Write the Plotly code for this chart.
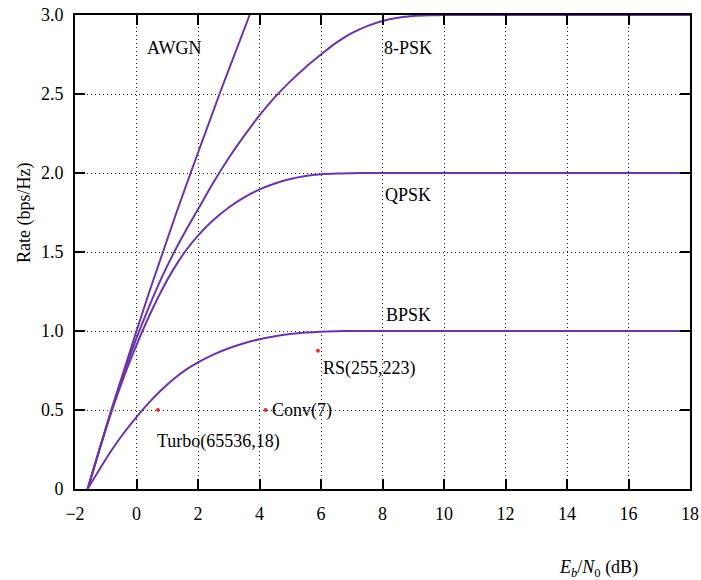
import plotly.graph_objects as go

# ---- data ----
awgn_x = [-1.59, -1.21, -0.82, -0.41, 0.0, 0.42, 0.86, 1.30, 1.76, 2.23, 2.70, 3.19, 3.68]
awgn_y = [0.0, 0.25, 0.5, 0.75, 1.0, 1.25, 1.5, 1.75, 2.0, 2.25, 2.5, 2.75, 3.0]

bpsk_x = [-1.59, -1.2, -0.8, -0.4, 0.0, 0.4, 0.8, 1.2, 1.6, 2.0, 2.5, 3.0, 3.5, 4.0, 4.5,
          5.0, 5.5, 6.0, 6.5, 7.0, 7.5, 8.0, 9.0, 10.0, 11.0, 12.0, 13.0, 14.0, 15.0,
          16.0, 17.0, 18.0]
bpsk_y = [0.0, 0.125, 0.2485, 0.3575, 0.455, 0.545, 0.625, 0.695, 0.754, 0.802, 0.851,
          0.891, 0.923, 0.948, 0.967, 0.981, 0.9905, 0.996, 0.9986, 0.9996, 1.0, 1.0, 1.0,
          1.0, 1.0, 1.0, 1.0, 1.0, 1.0, 1.0, 1.0, 1.0]

qpsk_x = [-1.59, -1.2, -0.8, -0.4, 0.0, 0.4, 0.8, 1.2, 1.6, 2.0, 2.5, 3.0, 3.5, 4.0, 4.5,
          5.0, 5.5, 6.0, 6.5, 7.0, 7.5, 8.0, 9.0, 10.0, 11.0, 12.0, 13.0, 14.0, 15.0,
          16.0, 17.0, 18.0]
qpsk_y = [0.0, 0.25, 0.497, 0.715, 0.91, 1.09, 1.25, 1.39, 1.508, 1.604, 1.702, 1.782,
          1.846, 1.896, 1.934, 1.962, 1.981, 1.992, 1.997, 1.999, 2.0, 2.0, 2.0, 2.0, 2.0,
          2.0, 2.0, 2.0, 2.0, 2.0, 2.0, 2.0]

psk8_x = [-1.59, -1.2, -0.8, -0.4, 0.0, 0.4, 0.8, 1.2, 1.6, 2.0, 2.5, 3.0, 3.5, 4.0, 4.5,
          5.0, 5.5, 6.0, 6.5, 7.0, 7.5, 8.0, 8.5, 9.0, 9.5, 10.0, 11.0, 12.0, 13.0, 14.0,
          15.0, 16.0, 17.0, 18.0]
psk8_y = [0.0, 0.253, 0.505, 0.74, 0.955, 1.15, 1.33, 1.49, 1.635, 1.77, 1.94, 2.095,
          2.235, 2.365, 2.48, 2.58, 2.67, 2.75, 2.825, 2.885, 2.93, 2.962, 2.982, 2.993,
          2.998, 3.0, 3.0, 3.0, 3.0, 3.0, 3.0, 3.0, 3.0, 3.0]

code_names = ["Turbo(65536,18)", "Conv(7)", "RS(255,223)"]
code_x = [0.7, 4.2, 5.9]
code_y = [0.5, 0.5, 0.875]

x_ticks = [-2, 0, 2, 4, 6, 8, 10, 12, 14, 16, 18]
y_ticks = [0, 0.5, 1.0, 1.5, 2.0, 2.5, 3.0]
y_ticktext = ["0", "0.5", "1.0", "1.5", "2.0", "2.5", "3.0"]

# ---- figure ----
LINE = "#6a35a8"
FONT = "Liberation Serif"
FS = 18

fig = go.Figure()
for xs, ys, name in [(awgn_x, awgn_y, "AWGN"), (bpsk_x, bpsk_y, "BPSK"),
                     (qpsk_x, qpsk_y, "QPSK"), (psk8_x, psk8_y, "8-PSK")]:
    fig.add_trace(go.Scatter(x=xs, y=ys, mode="lines", name=name,
                             line=dict(color=LINE, width=2, shape="spline", smoothing=1.0),
                             hoverinfo="skip"))

fig.add_trace(go.Scatter(x=code_x, y=code_y, mode="markers", name="codes",
                         marker=dict(color="#e8302a", size=4)))

labels = [
    ("AWGN", 0.30, 2.79),
    ("8-PSK", 8.0, 2.79),
    ("QPSK", 8.05, 1.86),
    ("BPSK", 8.08, 1.10),
    (code_names[2], 6.02, 0.76),
    (code_names[0], 0.62, 0.30),
    (code_names[1], 4.38, 0.50),
]
for txt, ax_, ay_ in labels:
    fig.add_annotation(x=ax_, y=ay_, xref="x", yref="y", text=txt, showarrow=False,
                       xanchor="left", yanchor="middle", borderpad=0,
                       font=dict(family=FONT, size=FS, color="black"))

fig.add_annotation(xref="paper", yref="paper", x=0.852, y=-0.167,
                   text="<i>E<sub>b</sub></i>/<i>N</i><sub>0</sub> (dB)", showarrow=False,
                   xanchor="center", yanchor="middle",
                   font=dict(family=FONT, size=FS, color="black"))
fig.add_annotation(xref="paper", yref="paper", x=-0.083, y=0.582,
                   text="Rate (bps/Hz)", showarrow=False, textangle=-90,
                   xanchor="center", yanchor="middle",
                   font=dict(family=FONT, size=FS, color="black"))

axis_common = dict(showline=True, linecolor="black", linewidth=2, mirror="ticks",
                   ticks="inside", ticklen=10, tickwidth=2, tickcolor="black",
                   showgrid=True, gridcolor="#222", gridwidth=1, griddash="1px,3px",
                   zeroline=False, automargin=False,
                   tickfont=dict(family=FONT, size=FS, color="black"))

fig.update_xaxes(range=[-2, 18], tickvals=x_ticks,
                 ticktext=[("\u2212" + str(-v)) if v < 0 else str(v) for v in x_ticks],
                 ticklabelstandoff=7, **axis_common)
fig.update_yaxes(range=[0, 3], tickvals=y_ticks, ticktext=y_ticktext,
                 ticklabelstandoff=6, **axis_common)

fig.update_layout(width=701, height=580, margin=dict(l=75, r=11, t=15, b=91),
                  plot_bgcolor="white", paper_bgcolor="white", showlegend=False,
                  font=dict(family=FONT, size=FS, color="black"))

fig.write_html("out.html")
